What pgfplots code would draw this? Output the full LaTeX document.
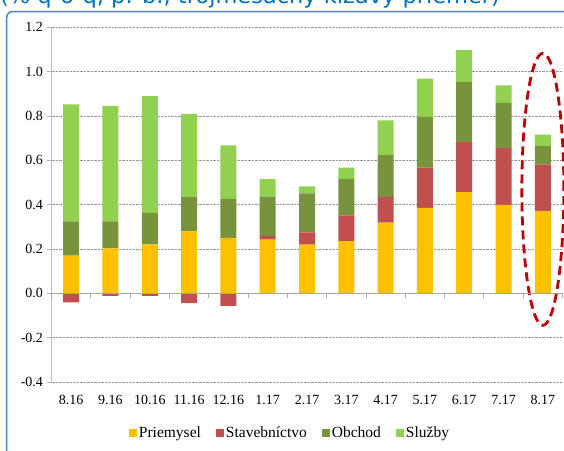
\documentclass[border=0pt]{standalone}
\usepackage{fontspec}
\setmainfont{Liberation Serif}
\newfontfamily\titlefont{DejaVu Sans}
\usepackage{pgfplots}
\usepackage{pgfplotstable}
\pgfplotsset{compat=1.18}
\definecolor{cPrie}{RGB}{255,192,0}
\definecolor{cStav}{RGB}{192,80,77}
\definecolor{cObch}{RGB}{119,147,60}
\definecolor{cSluz}{RGB}{146,208,80}
\definecolor{cFrame}{RGB}{79,129,189}
\definecolor{cTitle}{RGB}{0,112,192}
\definecolor{cEll}{RGB}{192,0,0}

\pgfplotstableread{
x  Prie  StavN  StavP  Obch  Sluz
0  0.170 -0.041 0.000 0.155 0.527
1  0.203 -0.012 0.000 0.122 0.521
2  0.221 -0.012 0.000 0.142 0.526
3  0.280 -0.044 0.000 0.156 0.374
4  0.250 -0.057 0.000 0.176 0.241
5  0.242  0.000 0.017 0.177 0.079
6  0.220  0.000 0.055 0.176 0.031
7  0.236  0.000 0.116 0.164 0.051
8  0.319  0.000 0.116 0.188 0.157
9  0.385  0.000 0.182 0.229 0.172
10 0.457  0.000 0.226 0.270 0.144
11 0.399  0.000 0.256 0.204 0.079
12 0.372  0.000 0.210 0.082 0.052
}\data

\begin{document}
\begin{tikzpicture}
\useasboundingbox (0,0) rectangle (564pt,-450pt);
\clip (0,0) rectangle (564pt,-450pt);
\draw[cFrame, line width=1.5pt, rounded corners=6pt] (6.7pt,-520pt) |- (650pt,-11.5pt);
\node[anchor=base west, inner sep=0pt, text=cTitle, font=\titlefont\fontsize{22.5}{27}\selectfont] at (0pt,-3pt) {(\% q-o-q, p. b., trojmesačný kĺzavý priemer)};
\begin{axis}[
  at={(51.5pt,-382pt)}, anchor=south west,
  width=511pt, height=354.7pt, scale only axis,
  clip=false,
  xmin=-0.5, xmax=12.5, ymin=-0.4, ymax=1.2,
  ybar stacked, bar width=16pt,
  axis lines*=left,
  x axis line style={draw=none},
  y axis line style={draw=gray!50, line width=1.2pt},
  xtick={0,...,12},
  xticklabels={8.16,9.16,10.16,11.16,12.16,1.17,2.17,3.17,4.17,5.17,6.17,7.17,8.17},
  xtick style={draw=none},
  xticklabel style={font=\fontsize{14}{16}\selectfont, yshift=-6pt},
  ytick={-0.4,-0.2,0,0.2,0.4,0.6,0.8,1.0,1.2},
  yticklabel style={font=\fontsize{14}{16}\selectfont, xshift=-1pt,
    /pgf/number format/.cd, fixed, fixed zerofill, precision=1, assume math mode=true},
  ytick style={draw=gray!60, line width=0.8pt},
  tick align=outside, major tick length=4pt,
  ymajorgrids, major grid style={densely dotted, gray!80, line width=0.8pt},
  legend style={at={(0.4667,-0.1437)}, anchor=center, draw=none, fill=none,
    font=\fontsize{15.5}{18}\selectfont, legend columns=4,
    /tikz/every even column/.append style={column sep=13pt}},
  legend image code/.code={\fill[#1] (0pt,-4pt) rectangle (8pt,4pt);},
]
\draw[gray!70, line width=0.8pt] (axis cs:-0.5,0) -- (axis cs:12.5,0);
\pgfplotsinvokeforeach{-0.5,0.5,1.5,2.5,3.5,4.5,5.5,6.5,7.5,8.5,9.5,10.5,11.5,12.5}{
  \draw[gray!70, line width=0.8pt] (axis cs:#1,0) -- ([yshift=-5pt]axis cs:#1,0);
}
\addplot[draw=none, fill=cStav, forget plot] table[x=x, y=StavN] {\data};
\addplot[draw=none, fill=cPrie] table[x=x, y=Prie] {\data};
\addlegendentry{Priemysel}
\addplot[draw=none, fill=cStav] table[x=x, y=StavP] {\data};
\addlegendentry{Stavebníctvo}
\addplot[draw=none, fill=cObch] table[x=x, y=Obch] {\data};
\addlegendentry{Obchod}
\addplot[draw=none, fill=cSluz] table[x=x, y=Sluz] {\data};
\addlegendentry{Služby}
\draw[cEll, line width=2.8pt, dash pattern=on 9pt off 5pt] (axis cs:12,0.469) ellipse [x radius=21pt, y radius=136pt];
\end{axis}
\end{tikzpicture}
\end{document}
